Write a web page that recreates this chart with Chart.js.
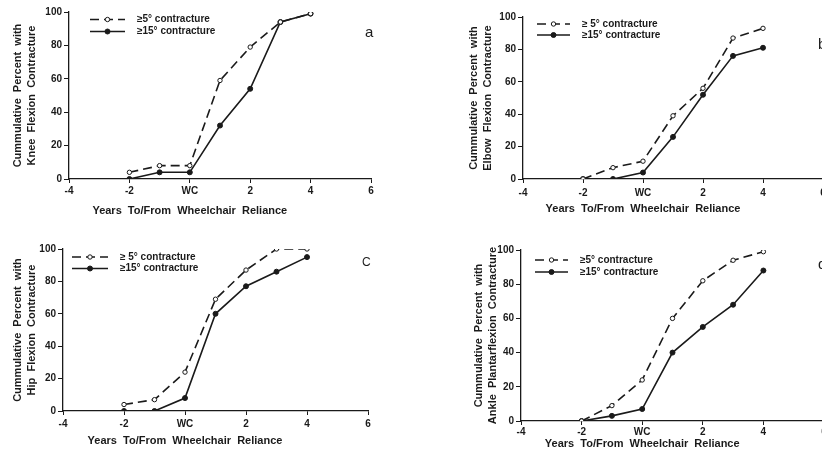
<!DOCTYPE html>
<html>
<head>
<meta charset="utf-8">
<script src="https://cdn.jsdelivr.net/npm/chart.js@4.4.1/dist/chart.umd.min.js"></script>
<style>
    html, body { margin: 0; padding: 0; background: #fff; }
    body { width: 822px; height: 454px; position: relative; overflow: hidden; }
    canvas { position: absolute; }
    .tag { position: absolute; font-family: "Liberation Sans", Arial, sans-serif; color: #1c1c1c; line-height: 1; }
</style>
</head>
<body>
<canvas id="knee" width="411" height="220" style="left:0;top:0"></canvas>
<canvas id="elbow" width="440" height="220" style="left:411px;top:0"></canvas>
<canvas id="hip" width="411" height="234" style="left:0;top:220px"></canvas>
<canvas id="ankle" width="440" height="234" style="left:411px;top:220px"></canvas>
<div class="tag" style="left:365px;top:24px;font-size:15px">a</div>
<div class="tag" style="left:818px;top:36px;font-size:15px">b</div>
<div class="tag" style="left:362px;top:256px;font-size:12px">C</div>
<div class="tag" style="left:818px;top:256px;font-size:15px">d</div>
<script>
// years relative to wheelchair reliance (0 = WC)
const years = [-2, -1, 0, 1, 2, 3, 4];
const xTicks = [-4, -2, 0, 2, 4, 6];
const xTickLabels = ['-4', '-2', 'WC', '2', '4', '6'];
const yTicks = [0, 20, 40, 60, 80, 100];

const kneeMild = [4, 8, 8, 59, 79, 94, 99];
const kneeSevere = [0, 4, 4, 32, 54, 94, 99];
const elbowMild = [0, 7, 11, 39, 56, 87, 93];
const elbowSevere = [0, 0, 4, 26, 52, 76, 81];
const hipMild = [4, 7, 24, 69, 87, 100, 100];
const hipSevere = [0, 0, 8, 60, 77, 86, 95];
const ankleMild = [0, 9, 24, 60, 82, 94, 99];
const ankleSevere = [0, 3, 7, 40, 55, 68, 88];

const xTitle = 'Years  To/From  Wheelchair  Reliance';

const ink = '#1a1a1a';
const family = '"Liberation Sans", Arial, sans-serif';

// legend sits inside the plot, x title is centred under WC like the print
const inlineLegend = {
    id: 'inlineLegend',
    afterDraw(chart, args, opts) {
        const ctx = chart.ctx;
        ctx.save();
        chart.data.datasets.forEach((ds, i) => {
            const y = opts.rows[i];
            ctx.strokeStyle = ink;
            ctx.lineWidth = ds.borderWidth;
            ctx.setLineDash(ds.borderDash || []);
            ctx.beginPath();
            ctx.moveTo(opts.x0, y);
            ctx.lineTo(opts.x1, y);
            ctx.stroke();
            ctx.setLineDash([]);
            ctx.beginPath();
            ctx.arc((opts.x0 + opts.x1) / 2, y, ds.pointRadius, 0, Math.PI * 2);
            ctx.fillStyle = ds.pointBackgroundColor;
            ctx.fill();
            ctx.lineWidth = 1;
            ctx.stroke();
            ctx.fillStyle = ink;
            ctx.font = 'bold 10px ' + family;
            ctx.textAlign = 'left';
            ctx.textBaseline = 'middle';
            ctx.fillText(ds.label, opts.textX, y);
        });
        ctx.font = 'bold 11px ' + family;
        ctx.textAlign = 'center';
        ctx.textBaseline = 'middle';
        ctx.fillText(xTitle, chart.scales.x.getPixelForValue(0), opts.titleY);
        ctx.restore();
    }
};

function toPoints(values) {
    return values.map((v, i) => ({ x: years[i], y: v }));
}

function renderPanel(canvasId, mild, severe, labels, yTitle, box) {
    const canvas = document.getElementById(canvasId);

    new Chart(canvas, {
        type: 'line',
        data: {
            datasets: [
                {
                    label: labels[0],
                    data: toPoints(mild),
                    borderColor: ink,
                    borderWidth: 1.6,
                    borderDash: [9, 5],
                    pointRadius: 2.2,
                    pointBackgroundColor: '#ffffff',
                    pointBorderColor: ink,
                    pointBorderWidth: 1,
                    tension: 0,
                },
                {
                    label: labels[1],
                    data: toPoints(severe),
                    borderColor: ink,
                    borderWidth: 1.6,
                    pointRadius: 2.5,
                    pointBackgroundColor: ink,
                    pointBorderColor: ink,
                    pointBorderWidth: 1,
                    tension: 0,
                },
            ],
        },
        options: {
            responsive: false,
            animation: false,
            events: [],
            layout: { padding: { left: 0, top: box.top, right: canvas.width - box.right, bottom: 0 } },
            plugins: {
                legend: { display: false },
                tooltip: { enabled: false },
                inlineLegend: box.legend,
            },
            scales: {
                x: {
                    type: 'linear',
                    min: -4,
                    max: 6,
                    afterBuildTicks: (scale) => {
                        scale.ticks = xTicks.map((value) => ({ value }));
                    },
                    afterFit: (scale) => {
                        scale.height = canvas.height - box.bottom;
                    },
                    border: { display: true, color: ink, width: 1.3 },
                    grid: { drawOnChartArea: false, drawTicks: true, tickLength: 4, color: ink },
                    ticks: {
                        color: ink,
                        padding: box.xPad,
                        maxRotation: 0,
                        font: { family, size: 10, weight: 'bold' },
                        callback: (value) => xTickLabels[xTicks.indexOf(value)],
                    },
                },
                y: {
                    min: 0,
                    max: 100,
                    afterBuildTicks: (scale) => {
                        scale.ticks = yTicks.map((value) => ({ value }));
                    },
                    afterFit: (scale) => {
                        scale.width = box.left;
                    },
                    border: { display: true, color: ink, width: 1.3 },
                    grid: { drawOnChartArea: false, drawTicks: true, tickLength: 5, color: ink },
                    ticks: {
                        color: ink,
                        padding: 2,
                        font: { family, size: 10, weight: 'bold' },
                    },
                    title: {
                        display: true,
                        text: yTitle,
                        color: ink,
                        padding: { top: box.yTitlePad, bottom: 0 },
                        font: { family, size: 11, weight: 'bold', lineHeight: '14px' },
                    },
                },
            },
        },
        plugins: [inlineLegend],
    });
}

renderPanel('knee', kneeMild, kneeSevere,
    ['\u22655\u00b0 contracture', '\u226515\u00b0 contracture'],
    ['Cummulative  Percent  with', 'Knee  Flexion  Contracture'],
    { left: 69, right: 371, top: 12, bottom: 179, xPad: 2, yTitlePad: 11,
      legend: { x0: 90, x1: 125, textX: 137, rows: [19.5, 31.5], titleY: 211 } });

renderPanel('elbow', elbowMild, elbowSevere,
    ['\u2265 5\u00b0 contracture', '\u226515\u00b0 contracture'],
    ['Cummulative  Percent  with', 'Elbow  Flexion  Contracture'],
    { left: 112, right: 412, top: 17, bottom: 179, xPad: 4, yTitlePad: 56,
      legend: { x0: 126, x1: 159, textX: 171, rows: [24, 35], titleY: 209 } });

renderPanel('hip', hipMild, hipSevere,
    ['\u2265 5\u00b0 contracture', '\u226515\u00b0 contracture'],
    ['Cummulative  Percent  with', 'Hip  Flexion  Contracture'],
    { left: 63, right: 368, top: 29, bottom: 191, xPad: 3, yTitlePad: 11,
      legend: { x0: 72, x1: 108, textX: 120, rows: [37, 48.5], titleY: 221 } });

renderPanel('ankle', ankleMild, ankleSevere,
    ['\u22655\u00b0 contracture', '\u226515\u00b0 contracture'],
    ['Cummulative  Percent  with', 'Ankle  Plantarflexion  Contracture'],
    { left: 110, right: 413, top: 30, bottom: 201, xPad: 1, yTitlePad: 61,
      legend: { x0: 124, x1: 157, textX: 169, rows: [40, 52], titleY: 224 } });
</script>
</body>
</html>
